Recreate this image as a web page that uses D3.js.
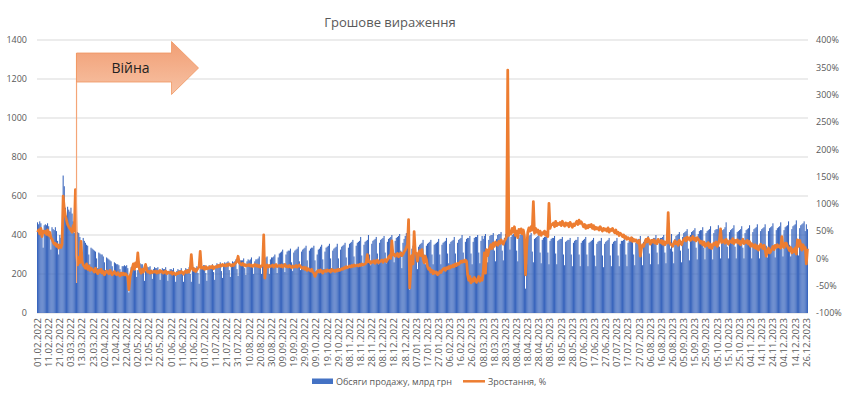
<!DOCTYPE html>
<html>
<head>
<meta charset="utf-8">
<script src="https://cdn.jsdelivr.net/npm/d3@7"></script>
<style>
  body { margin: 0; background: #fff; }
  svg text { font-family: "Open Sans", "Noto Sans", sans-serif; }
</style>
</head>
<body>
<svg id="chart" width="850" height="397"></svg>
<script>
var title = "Грошове вираження";
var seriesNames = ["Обсяги продажу, млрд грн", "Зростання, %"];
var warLabel = "Війна";

// daily categories, first and last day, plus the days absent from the source table
var firstDay = new Date(2022, 1, 1);
var lastDay = new Date(2023, 11, 27);
var missingDays = ["02.04.2023", "23.12.2023", "24.12.2023"];
var warMarkDay = "08.03.2022";

var leftTicks = [0, 200, 400, 600, 800, 1000, 1200, 1400];
var rightTicks = [-100, -50, 0, 50, 100, 150, 200, 250, 300, 350, 400];

// sales, bn UAH, one row per week (Tue..Mon)
var sales = [
  465, 455, 470, 460, 400, 335, 450,
  455, 450, 460, 445, 390, 325, 440,
  430, 425, 440, 420, 370, 300, 400,
  385, 420, 705, 650, 540, 500, 545,
  530, 520, 540, 510, 470, 410, 420,
  400, 415, 410, 390, 340, 290, 385,
  370, 360, 350, 345, 300, 250, 335,
  330, 325, 320, 315, 280, 230, 310,
  305, 300, 300, 290, 260, 220, 285,
  280, 275, 270, 265, 240, 205, 260,
  255, 250, 250, 245, 225, 195, 240,
  240, 245, 240, 245, 230, 105, 200,
  235, 240, 235, 245, 220, 185, 220,
  265, 255, 250, 250, 215, 165, 215,
  240, 235, 235, 240, 210, 175, 225,
  235, 230, 230, 235, 205, 170, 220,
  230, 225, 225, 235, 200, 165, 215,
  225, 225, 220, 230, 195, 160, 215,
  225, 220, 220, 230, 195, 160, 215,
  230, 225, 225, 235, 200, 160, 220,
  235, 230, 230, 240, 205, 150, 225,
  240, 235, 245, 245, 205, 165, 230,
  245, 240, 240, 250, 210, 170, 235,
  255, 250, 250, 260, 215, 180, 245,
  260, 255, 260, 265, 220, 185, 250,
  265, 260, 265, 275, 225, 190, 260,
  270, 270, 270, 280, 230, 195, 265,
  275, 270, 275, 285, 235, 200, 265,
  275, 275, 280, 290, 235, 200, 270,
  280, 210, 285, 290, 240, 200, 275,
  285, 285, 290, 300, 245, 205, 285,
  305, 310, 315, 325, 255, 210, 300,
  315, 320, 320, 330, 260, 215, 310,
  320, 325, 330, 340, 265, 220, 315,
  325, 330, 335, 345, 270, 220, 320,
  330, 335, 335, 345, 270, 215, 300,
  325, 330, 340, 350, 275, 225, 315,
  335, 340, 345, 355, 280, 230, 320,
  330, 335, 340, 355, 280, 230, 325,
  340, 345, 350, 360, 285, 235, 335,
  355, 360, 365, 375, 290, 240, 345,
  360, 365, 370, 390, 295, 240, 350,
  365, 370, 375, 400, 300, 245, 355,
  370, 375, 380, 390, 305, 250, 360,
  375, 380, 385, 395, 310, 255, 365,
  380, 385, 390, 400, 315, 260, 370,
  385, 390, 395, 405, 320, 230, 360,
  380, 395, 410, 400, 290, 120, 200,
  330, 345, 355, 370, 300, 225, 340,
  350, 355, 360, 375, 300, 250, 345,
  355, 360, 365, 375, 300, 250, 350,
  355, 360, 365, 380, 300, 250, 350,
  360, 365, 370, 385, 305, 255, 355,
  365, 370, 375, 390, 305, 255, 360,
  375, 380, 385, 400, 310, 260, 365,
  380, 385, 385, 395, 305, 250, 365,
  385, 390, 390, 400, 310, 255, 370,
  395, 380, 395, 405, 315, 260, 375,
  395, 400, 400, 410, 320, 265, 380,
  400, 405, 405, 415, 320, 270, 385,
  405, 410, 415, 425, 325, 390,
  400, 405, 410, 420, 320, 265, 385,
  400, 405, 415, 430, 300, 125, 250,
  390, 395, 400, 410, 315, 260, 380,
  385, 390, 395, 405, 310, 255, 375,
  385, 390, 390, 400, 310, 250, 370,
  380, 385, 385, 395, 305, 250, 370,
  375, 380, 380, 390, 300, 245, 365,
  370, 375, 375, 385, 300, 240, 360,
  370, 375, 375, 390, 300, 240, 360,
  370, 375, 380, 390, 300, 240, 360,
  365, 370, 375, 385, 295, 240, 355,
  365, 370, 370, 385, 295, 235, 355,
  365, 370, 375, 385, 295, 240, 355,
  365, 370, 370, 385, 295, 240, 355,
  370, 370, 375, 390, 300, 240, 360,
  370, 375, 380, 390, 300, 245, 360,
  375, 380, 380, 395, 305, 245, 365,
  375, 380, 385, 395, 305, 250, 365,
  380, 385, 385, 400, 310, 250, 370,
  385, 385, 390, 400, 310, 255, 375,
  390, 395, 330, 405, 315, 255, 380,
  395, 400, 405, 415, 320, 260, 390,
  410, 415, 420, 430, 330, 270, 400,
  415, 420, 425, 435, 335, 275, 405,
  420, 425, 425, 440, 335, 275, 410,
  420, 425, 430, 445, 340, 275, 410,
  425, 430, 430, 450, 340, 280, 415,
  425, 430, 440, 465, 340, 280, 415,
  425, 430, 435, 450, 340, 280, 415,
  420, 425, 430, 445, 335, 280, 410,
  425, 430, 435, 450, 340, 280, 415,
  430, 435, 440, 455, 340, 280, 420,
  430, 435, 440, 455, 345, 285, 420,
  435, 440, 445, 460, 345, 285, 425,
  435, 440, 445, 465, 350, 290, 425,
  440, 445, 450, 470, 350, 290, 430,
  445, 450, 455, 475, 355, 295, 435,
  450, 455, 460, 470, 420,
  455, 430
];

// growth, %, same days
var growth = [
  48, 52, 45, 55, 40, 50, 47,
  50, 44, 52, 42, 48, 38, 35,
  30, 26, 28, 22, 25, 19, 24,
  20, 26, 114, 92, 78, 70, 62,
  58, 55, 52, 48, 60, 50, 126,
  5, -12, 2, -8, 31, -5, -12,
  -15, -18, -10, -20, -14, -22, -18,
  -20, -22, -25, -18, -24, -28, -22,
  -25, -20, -27, -24, -30, -26, -23,
  -25, -28, -22, -26, -30, -27, -24,
  -28, -30, -26, -29, -32, -27, -30,
  -27, -30, -28, -31, -33, -57, -35,
  -25, -18, -10, -20, -8, -15, 10,
  -15, -22, -27, -20, -25, -18, -11,
  -22, -25, -24, -27, -23, -26, -24,
  -25, -23, -27, -24, -26, -22, -25,
  -24, -27, -25, -23, -28, -25, -26,
  -27, -25, -29, -26, -28, -30, -27,
  -28, -25, -27, -24, -26, -29, -25,
  -23, -26, -22, -25, -20, 7, -18,
  -22, -19, -24, -21, -18, -16, 13,
  -18, -18, -16, -20, -15, -19, -17,
  -18, -15, -17, -14, -19, -16, -15,
  -16, -13, -15, -12, -14, -11, -13,
  -12, -14, -11, -13, -10, -12, -14,
  -11, -13, -10, -8, -5, 4, -8,
  -10, -12, -9, -13, -11, -14, -12,
  -13, -11, -14, -12, -15, -13, -11,
  -14, -12, -15, -13, -16, -14, -12,
  43, -36, -15, -12, -16, -13, -15,
  -14, -12, -16, -13, -11, -15, -14,
  -13, -15, -12, -16, -14, -11, -15,
  -14, -16, -13, -15, -17, -14, -16,
  -15, -13, -16, -14, -12, -15, -17,
  -18, -16, -20, -17, -22, -19, -21,
  -23, -20, -25, -27, -33, -28, -24,
  -22, -25, -21, -24, -27, -23, -22,
  -24, -21, -23, -22, -25, -20, -23,
  -22, -24, -21, -23, -20, -22, -21,
  -19, -20, -17, -18, -15, -17, -16,
  -14, -16, -13, -15, -12, -14, -13,
  -12, -14, -11, -13, -10, -12, -11,
  -10, -8, 7, -6, -5, -9, -6,
  -7, -4, -9, -5, -3, -8, -6,
  -5, -3, -7, -4, -2, -6, -3,
  2, 5, 0, 32, 6, 8, 4,
  6, 9, 3, 7, 10, 5, 8,
  12, 15, 20, 25, 71, -54, -20,
  5, -10, 49, 12, 8, -5, 10,
  14, 5, 16, 0, -8, 4, -2,
  -15, -20, -18, -25, -22, -28, -24,
  -27, -25, -30, -28, -24, -26, -22,
  -20, -18, -22, -17, -19, -15, -18,
  -14, -16, -12, -15, -10, -13, -9,
  -11, -8, -5, -7, -4, -6, -3,
  -5, -30, -40, -33, -45, -38, -42,
  -35, -40, -44, -38, -33, -42, -36,
  -40, -25, 10, -27, 16, 5, 14,
  20, 25, 18, 28, 22, 30, 26,
  24, 31, 27, 34, 29, 26, 32,
  35, 40, 345, 42, 50, 45,
  55, 48, 58, 42, 50, 38, 53,
  47, 54, 45, 52, 40, -30, 20,
  48, 56, 50, 58, 52, 104, 46,
  55, 48, 52, 44, 50, 42, 47,
  45, 50, 42, 48, 40, 101, 55,
  62, 62, 65, 58, 68, 60, 64,
  62, 66, 60, 68, 63, 59, 65,
  61, 64, 58, 66, 62, 57, 63,
  60, 65, 68, 62, 70, 64, 67,
  63, 58, 62, 55, 60, 56, 61,
  58, 62, 55, 60, 53, 57, 54,
  56, 52, 58, 54, 50, 55, 52,
  54, 50, 56, 48, 53, 51, 55,
  50, 47, 52, 45, 48, 42, 46,
  44, 40, 43, 37, 40, 35, 38,
  36, 33, 38, 31, 35, 32, 34,
  30, 28, 33, 4, 18, 25, 22,
  28, 35, 30, 37, 32, 26, 33,
  30, 34, 28, 32, 27, 35, 31,
  29, 33, 26, 31, 25, 30, 28,
  84, 30, 26, 25, 22, 28, 32,
  27, 30, 24, 33, 29, 25, 31,
  34, 37, 32, 39, 35, 38, 33,
  36, 40, 34, 37, 32, 38, 35,
  33, 28, 31, 25, 30, 22, 27,
  24, 29, 20, 26, 18, 23, 28,
  25, 30, 22, 27, 34, 54, 29,
  31, 33, 28, 35, 30, 26, 32,
  32, 29, 36, 27, 33, 30, 34,
  28, 32, 25, 30, 35, 27, 31,
  29, 33, 26, 31, 22, 27, 24,
  20, 25, 18, 23, 15, 21, 26,
  22, 18, 24, 16, 4, 13, 19,
  10, 12, 18, 22, 16, 24, 20,
  25, 21, 23, 19, 40, 22, 20,
  28, 28, 22, 18, 14, 20, 10,
  16, 12, 19, 8, 34, 22, 33,
  25, 15, 25, 18, 20,
  -10, 18
];

var fmt = d3.timeFormat("%d.%m.%Y");
var days = d3.timeDay
  .range(firstDay, d3.timeDay.offset(lastDay, 1))
  .map(fmt)
  .filter((d) => missingDays.indexOf(d) < 0);

if (days.length !== sales.length || days.length !== growth.length) {
  console.warn("length mismatch", days.length, sales.length, growth.length);
}

var W = 850;
var H = 397;
var m = { l: 37, r: 42, t: 40, b: 84 };
var grey = "#595959";

var svg = d3.select("#chart");

var x = d3
  .scaleBand()
  .domain(d3.range(days.length))
  .range([m.l, W - m.r])
  .paddingInner(0.05)
  .paddingOuter(0);
var bw = x.bandwidth();
var cx = (i) => x(i) + bw / 2;

var yL = d3.scaleLinear().domain([0, 1400]).range([H - m.b, m.t]);
var yR = d3.scaleLinear().domain([-100, 400]).range([H - m.b, m.t]);

// gridlines
svg
  .append("g")
  .selectAll("line")
  .data(leftTicks)
  .join("line")
  .attr("x1", m.l)
  .attr("x2", W - m.r)
  .attr("y1", (d) => yL(d))
  .attr("y2", (d) => yL(d))
  .attr("stroke", "#d9d9d9")
  .attr("stroke-width", 1);

// bars
svg
  .append("g")
  .selectAll("rect")
  .data(sales)
  .join("rect")
  .attr("x", (d, i) => x(i))
  .attr("y", (d) => yL(d))
  .attr("width", bw)
  .attr("height", (d) => yL(0) - yL(d))
  .attr("fill", "#3a66bd");

// axes
var leftAxis = svg
  .append("g")
  .attr("transform", `translate(${m.l},0)`)
  .call(
    d3
      .axisLeft(yL)
      .tickValues(leftTicks)
      .tickFormat(d3.format("d"))
      .tickSize(0)
      .tickPadding(10)
  );
leftAxis.select(".domain").remove();
leftAxis
  .attr("font-family", null)
  .attr("font-size", 9)
  .selectAll("text")
  .attr("fill", grey);

var rightAxis = svg
  .append("g")
  .attr("transform", `translate(${W - m.r},0)`)
  .call(
    d3
      .axisRight(yR)
      .tickValues(rightTicks)
      .tickFormat((d) => d + "%")
      .tickSize(0)
      .tickPadding(8)
  );
rightAxis.select(".domain").remove();
rightAxis
  .attr("font-family", null)
  .attr("font-size", 9)
  .selectAll("text")
  .attr("fill", grey);

// date labels, every 10th day
svg
  .append("g")
  .selectAll("text")
  .data(days.map((d, i) => [d, i]).filter((d) => d[1] % 10 === 0))
  .join("text")
  .attr("transform", (d) => `translate(${cx(d[1])},${yL(0) + 5}) rotate(-90)`)
  .attr("text-anchor", "end")
  .attr("dy", "0.35em")
  .attr("font-size", 9.6)
  .attr("fill", grey)
  .text((d) => d[0]);

// growth line
var line = d3
  .line()
  .x((d, i) => cx(i))
  .y((d) => yR(d));

svg
  .append("path")
  .datum(growth)
  .attr("d", line)
  .attr("fill", "none")
  .attr("stroke", "#ed7d31")
  .attr("stroke-width", 2.75)
  .attr("stroke-linejoin", "round");

// war arrow annotation
var defs = svg.append("defs");
var grad = defs
  .append("linearGradient")
  .attr("id", "arrowFill")
  .attr("x1", 0)
  .attr("y1", 0)
  .attr("x2", 0)
  .attr("y2", 1);
grad.append("stop").attr("offset", "0%").attr("stop-color", "#f19e74");
grad.append("stop").attr("offset", "100%").attr("stop-color", "#f7c2a4");

var ax = cx(days.indexOf(warMarkDay));
var shaftTop = 53;
var shaftBot = 82;
svg
  .append("line")
  .attr("x1", ax)
  .attr("x2", ax)
  .attr("y1", shaftTop)
  .attr("y2", 283)
  .attr("stroke", "#f4a577")
  .attr("stroke-width", 1.2);

svg
  .append("path")
  .attr(
    "d",
    `M${ax},${shaftTop} H${ax + 95} V41.5 L${ax + 122},68 L${ax + 95},94.5 V${shaftBot} H${ax} Z`
  )
  .attr("fill", "url(#arrowFill)")
  .attr("stroke", "#f0955f")
  .attr("stroke-width", 0.8);

svg
  .append("text")
  .attr("x", ax + 54)
  .attr("y", 73)
  .attr("text-anchor", "middle")
  .attr("font-size", 14)
  .attr("fill", "#222")
  .text(warLabel);

// title
svg
  .append("text")
  .attr("x", 390)
  .attr("y", 27)
  .attr("text-anchor", "middle")
  .attr("font-size", 13)
  .attr("fill", grey)
  .text(title);

// legend
var lg = svg.append("g").attr("font-size", 9).attr("fill", grey);
lg.append("rect")
  .attr("x", 312)
  .attr("y", 378.5)
  .attr("width", 21)
  .attr("height", 5.5)
  .attr("fill", "#4472c4");
lg.append("text").attr("x", 336).attr("y", 384.5).text(seriesNames[0]);
lg.append("line")
  .attr("x1", 463)
  .attr("x2", 485)
  .attr("y1", 381.3)
  .attr("y2", 381.3)
  .attr("stroke", "#ed7d31")
  .attr("stroke-width", 2.5);
lg.append("text").attr("x", 488).attr("y", 384.5).text(seriesNames[1]);
</script>
</body>
</html>
